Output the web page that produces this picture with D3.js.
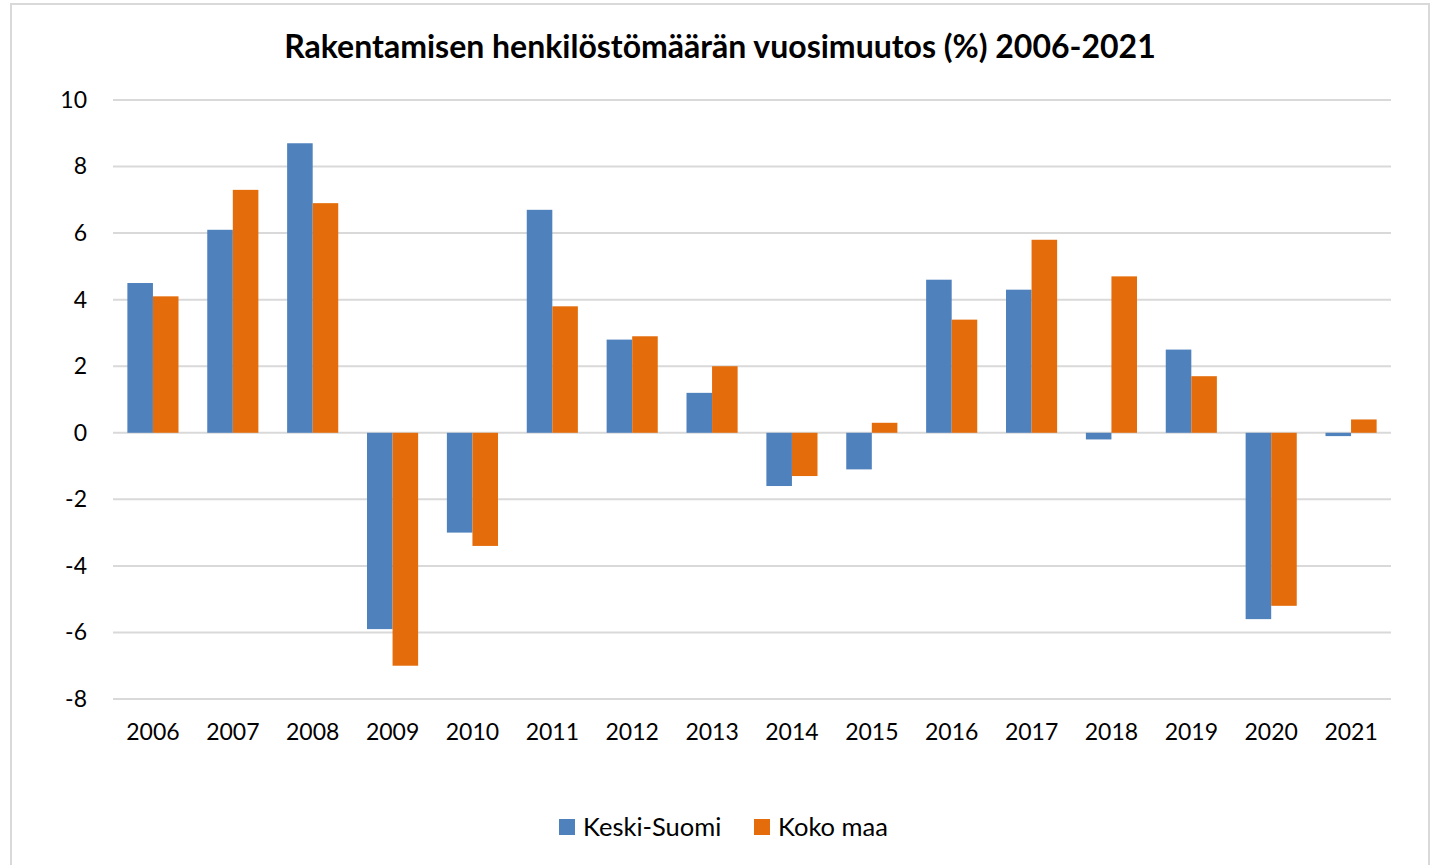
<!DOCTYPE html>
<html>
<head>
<meta charset="utf-8">
<script src="https://cdn.jsdelivr.net/npm/d3@7"></script>
<style>
  body { margin: 0; background: #fff; }
  svg { font-family: Lato, "Open Sans", sans-serif; }
</style>
</head>
<body>
<svg id="chart"></svg>
<script>
// data
const years = ["2006","2007","2008","2009","2010","2011","2012","2013","2014","2015","2016","2017","2018","2019","2020","2021"];
const keskiSuomi = [4.5, 6.1, 8.7, -5.9, -3.0, 6.7, 2.8, 1.2, -1.6, -1.1, 4.6, 4.3, -0.2, 2.5, -5.6, -0.1];
const kokoMaa = [4.1, 7.3, 6.9, -7.0, -3.4, 3.8, 2.9, 2.0, -1.3, 0.3, 3.4, 5.8, 4.7, 1.7, -5.2, 0.4];
const seriesNames = ["Keski-Suomi", "Koko maa"];
const colors = ["#4f81bd", "#e46c0a"];
const yTicks = [-8, -6, -4, -2, 0, 2, 4, 6, 8, 10];

const width = 1437, height = 865;
const svg = d3.select("#chart").attr("width", width).attr("height", height);

// chart frame
svg.append("rect")
    .attr("x", 11).attr("y", 4)
    .attr("width", 1418).attr("height", 880)
    .attr("fill", "#fff")
    .attr("stroke", "#d9d9d9")
    .attr("stroke-width", 2);

const plotLeft = 113, plotRight = 1391, plotTop = 100, plotBottom = 699;

const x = d3.scaleBand().domain(years).range([plotLeft, plotRight]).paddingInner(0.36).paddingOuter(0.18);
const xs = d3.scaleBand().domain(seriesNames).range([0, x.bandwidth()]);
const y = d3.scaleLinear().domain([-8, 10]).range([plotBottom, plotTop]);

// gridlines
svg.append("g").selectAll("line")
    .data(yTicks)
    .enter()
    .append("line")
    .attr("x1", plotLeft).attr("x2", plotRight)
    .attr("y1", d => y(d)).attr("y2", d => y(d))
    .attr("stroke", "#d9d9d9")
    .attr("stroke-width", 2);

// y axis labels (hyphen as minus, like the original)
const yAxis = d3.axisLeft(y).tickValues(yTicks).tickFormat(d => String(d)).tickSize(0).tickPadding(0);
const gy = svg.append("g").attr("transform", `translate(87,0)`).call(yAxis);
gy.select(".domain").remove();
gy.selectAll("text").attr("font-size", 23).attr("fill", "#000").attr("font-family", "Lato, 'Open Sans', sans-serif");

// bars
const data = years.map((yr, i) => ({ year: yr, values: [keskiSuomi[i], kokoMaa[i]] }));
const groups = svg.append("g").selectAll("g")
    .data(data)
    .enter()
    .append("g")
    .attr("transform", d => `translate(${x(d.year)},0)`);

groups.selectAll("rect")
    .data(d => d.values.map((v, j) => ({ name: seriesNames[j], value: v, color: colors[j] })))
    .enter()
    .append("rect")
    .attr("x", d => xs(d.name))
    .attr("width", xs.bandwidth())
    .attr("y", d => Math.min(y(d.value), y(0)))
    .attr("height", d => Math.abs(y(d.value) - y(0)))
    .attr("fill", d => d.color);

// x axis labels
const xAxis = d3.axisBottom(x).tickSize(0).tickPadding(0);
const gx = svg.append("g").attr("transform", `translate(0,${plotBottom + 25})`).call(xAxis);
gx.select(".domain").remove();
gx.selectAll("text").attr("font-size", 23).attr("fill", "#000").attr("font-family", "Lato, 'Open Sans', sans-serif");

// title
svg.append("text")
    .attr("x", 720).attr("y", 58)
    .attr("text-anchor", "middle")
    .attr("font-size", 32)
    .attr("font-weight", "bold")
    .attr("fill", "#000")
    .text("Rakentamisen henkilöstömäärän vuosimuutos (%) 2006-2021");

// legend
const legendX = [559, 754];
const legend = svg.append("g").selectAll("g")
    .data(seriesNames)
    .enter()
    .append("g")
    .attr("transform", (d, i) => `translate(${legendX[i]},819)`);
legend.append("rect").attr("width", 16).attr("height", 16).attr("fill", (d, i) => colors[i]);
legend.append("text")
    .attr("x", 24).attr("y", 17)
    .attr("font-size", 25.5)
    .attr("fill", "#000")
    .text(d => d);
</script>
</body>
</html>
